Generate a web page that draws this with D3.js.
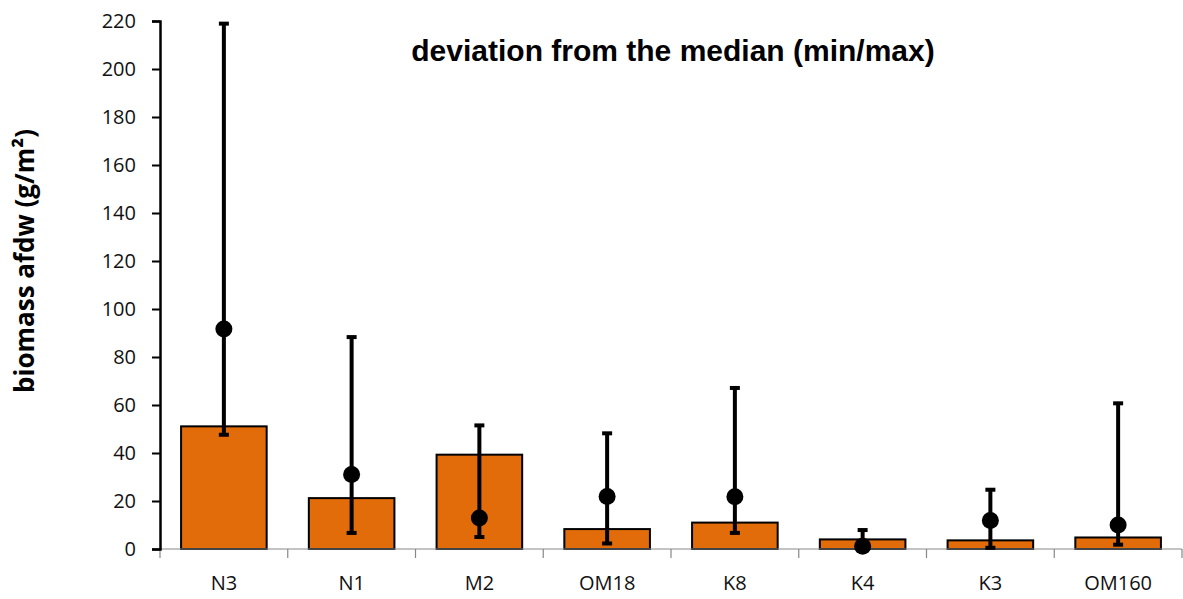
<!DOCTYPE html>
<html>
<head>
<meta charset="utf-8">
<script src="https://cdn.jsdelivr.net/npm/d3@7"></script>
<style>
  body { margin: 0; background: #fff; }
  .tick text { font-family: "Open Sans", "Noto Sans", sans-serif; font-size: 20px; fill: #111; }
</style>
</head>
<body>
<script>
// data
var sites   = ["N3", "N1", "M2", "OM18", "K8", "K4", "K3", "OM160"];
var barVals = [51.1, 21.2, 39.3, 8.3, 11, 4, 3.6, 4.8];
var medians = [91.7, 31, 12.9, 21.9, 21.8, 1.1, 11.9, 10];
var minVals = [47.6, 6.7, 5, 2.3, 6.7, 0, 0.5, 1.8];
var maxVals = [218.9, 88.3, 51.5, 48.2, 67.1, 7.9, 24.7, 60.7];
var yTicks  = [0, 20, 40, 60, 80, 100, 120, 140, 160, 180, 200, 220];

var W = 1183, H = 599;
var margin = {top: 21, right: 1, bottom: 50, left: 160},
    width = W - margin.left - margin.right,
    height = H - margin.top - margin.bottom;

var x = d3.scaleBand().domain(sites).range([0, width]).paddingInner(0.33).paddingOuter(0.165);
var xb = d3.scaleBand().domain(sites).range([0, width]);
var y = d3.scaleLinear().domain([0, 220]).range([height, 0]);

var svg = d3.select("body").append("svg")
    .attr("width", W).attr("height", H)
  .append("g")
    .attr("transform", "translate(" + margin.left + "," + margin.top + ")");

// bars
svg.selectAll(".bar")
    .data(sites)
  .enter().append("rect")
    .attr("x", function(d) { return x(d); })
    .attr("y", function(d, i) { return y(barVals[i]); })
    .attr("width", x.bandwidth())
    .attr("height", function(d, i) { return height - y(barVals[i]); })
    .attr("fill", "#E36C0A")
    .attr("stroke", "#000")
    .attr("stroke-width", 2);

// x axis (gray, ticks at band boundaries)
var xg = svg.append("g").attr("transform", "translate(0," + height + ")");
xg.append("line").attr("x1", 0).attr("x2", width).attr("stroke", "#888").attr("stroke-width", 1.2);
xg.selectAll(".sep")
    .data(d3.range(sites.length + 1))
  .enter().append("line")
    .attr("x1", function(i) { return i * xb.step(); })
    .attr("x2", function(i) { return i * xb.step(); })
    .attr("y1", 0).attr("y2", 9)
    .attr("stroke", "#888").attr("stroke-width", 1.2);
xg.selectAll(".lbl")
    .data(sites)
  .enter().append("text")
    .attr("x", function(d) { return xb(d) + xb.bandwidth() / 2; })
    .attr("y", 41)
    .attr("text-anchor", "middle")
    .style("font-family", "'Open Sans', 'Noto Sans', sans-serif")
    .style("font-size", "20px")
    .style("fill", "#111")
    .text(function(d) { return d; });

// error bars (min/max) with caps
var eb = svg.selectAll(".err").data(sites).enter().append("g");
eb.append("line")
    .attr("x1", function(d) { return xb(d) + xb.bandwidth() / 2; })
    .attr("x2", function(d) { return xb(d) + xb.bandwidth() / 2; })
    .attr("y1", function(d, i) { return y(minVals[i]); })
    .attr("y2", function(d, i) { return y(maxVals[i]); })
    .attr("stroke", "#000").attr("stroke-width", 4);
[minVals, maxVals].forEach(function(arr) {
  eb.append("line")
      .attr("x1", function(d) { return xb(d) + xb.bandwidth() / 2 - 5; })
      .attr("x2", function(d) { return xb(d) + xb.bandwidth() / 2 + 5; })
      .attr("y1", function(d, i) { return y(arr[i]); })
      .attr("y2", function(d, i) { return y(arr[i]); })
      .attr("stroke", "#000").attr("stroke-width", 4);
});

// medians
svg.selectAll(".dot")
    .data(sites)
  .enter().append("circle")
    .attr("cx", function(d) { return xb(d) + xb.bandwidth() / 2; })
    .attr("cy", function(d, i) { return y(medians[i]); })
    .attr("r", 8.5)
    .attr("fill", "#000");

// y axis
svg.append("g")
    .call(d3.axisLeft(y).tickValues(yTicks).tickSize(8).tickPadding(16))
    .call(function(g) {
      g.select(".domain").attr("stroke-width", 2.5);
      g.selectAll(".tick line").attr("stroke-width", 2);
    });

// y label
svg.append("text")
    .attr("transform", "translate(" + (-126) + "," + 240 + ") rotate(-90)")
    .attr("text-anchor", "middle")
    .style("font-family", "'Open Sans', 'Noto Sans', sans-serif")
    .style("font-weight", "bold")
    .style("font-size", "26px")
    .text("biomass afdw (g/m²)");

// title
svg.append("text")
    .attr("x", 513)
    .attr("y", 40)
    .attr("text-anchor", "middle")
    .style("font-family", "'Liberation Sans', Arial, sans-serif")
    .style("font-weight", "bold")
    .style("font-size", "30px")
    .text("deviation from the median (min/max)");
</script>
</body>
</html>
